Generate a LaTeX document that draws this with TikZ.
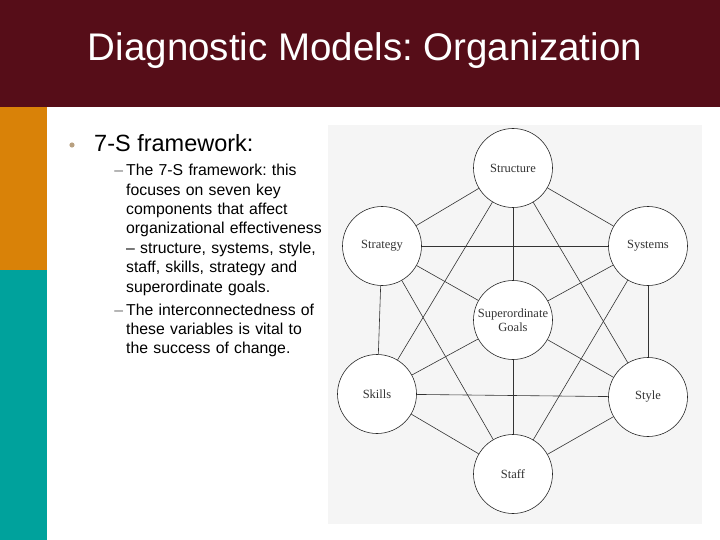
\documentclass[tikz,border=0pt]{standalone}
\usepackage{fontspec}
\setmainfont{Liberation Sans}
\newfontfamily\bookfont{Liberation Serif}
\usepackage{tikz}
\usetikzlibrary{positioning}
\frenchspacing

\definecolor{titlered}{HTML}{560D18}
\definecolor{barorange}{HTML}{D98208}
\definecolor{barteal}{HTML}{00A29C}
\definecolor{dotgray}{HTML}{B8A080}
\definecolor{scangray}{HTML}{F5F5F5}

\newcommand{\dashmark}{\makebox[0pt][r]{\textcolor{black!55}{--}\hspace{3pt}}}

\begin{document}
\begin{tikzpicture}[
    x=1pt, y=-1pt,
    sbox/.style={circle, draw=black!85, line width=0.6pt, fill=white, minimum size=79pt, inner sep=0pt, align=center, font=\bookfont\fontsize{12.5}{13.5}\selectfont, text=black!80},
    link/.style={draw=black!80, line width=0.6pt},
    body/.style={anchor=north west, align=left, inner sep=0pt, text width=205pt, font=\fontsize{15.8}{19.4}\selectfont}
]
\useasboundingbox (0,0) rectangle (720,540);

% Background bars
\fill[titlered] (0,0) rectangle (720,107);
\fill[barorange] (0,107) rectangle (47,270);
\fill[barteal] (0,270) rectangle (47,540);

% Title
\node[text=white, font=\fontsize{38.5}{42}\selectfont] (title) at (365,51) {Diagnostic Models: Organization};

% Bullets
\fill[dotgray] (72,145) circle (2.6pt);
\node[anchor=base west, inner sep=0pt, font=\fontsize{23.5}{27}\selectfont] (head) at (94,152) {7-S framework:};
\node[body] (texta) at (126,164) {\dashmark The 7-S framework: this\\ focuses on seven key\\ components that affect\\ organizational effectiveness\\ -- structure, systems, style,\\ staff, skills, strategy and\\ superordinate goals.};
\node[body, below=8pt of texta.south west, anchor=north west] (textb) {\dashmark The interconnectedness of\\ these variables is vital to\\ the success of change.};

% Scanned figure
\fill[scangray] (328,125) rectangle (702,524);

\node[sbox] (structure) at (513,168) {Structure};
\node[sbox] (strategy) at (382,246) {Strategy};
\node[sbox] (systems) at (648,246) {Systems};
\node[sbox] (goals) at (513,320) {Superordinate\\Goals};
\node[sbox] (skills) at (377,394) {Skills};
\node[sbox] (style) at (648,397) {Style};
\node[sbox] (staff) at (513,474) {Staff};

% Connections
\foreach \a/\b in {structure/strategy, structure/systems, structure/goals, structure/skills, structure/style,
                   strategy/systems, strategy/goals, strategy/skills, strategy/staff,
                   systems/goals, systems/style, systems/staff,
                   goals/skills, goals/style, goals/staff,
                   skills/style, skills/staff, style/staff}
  \draw[link] (\a) -- (\b);

\end{tikzpicture}
\end{document}
